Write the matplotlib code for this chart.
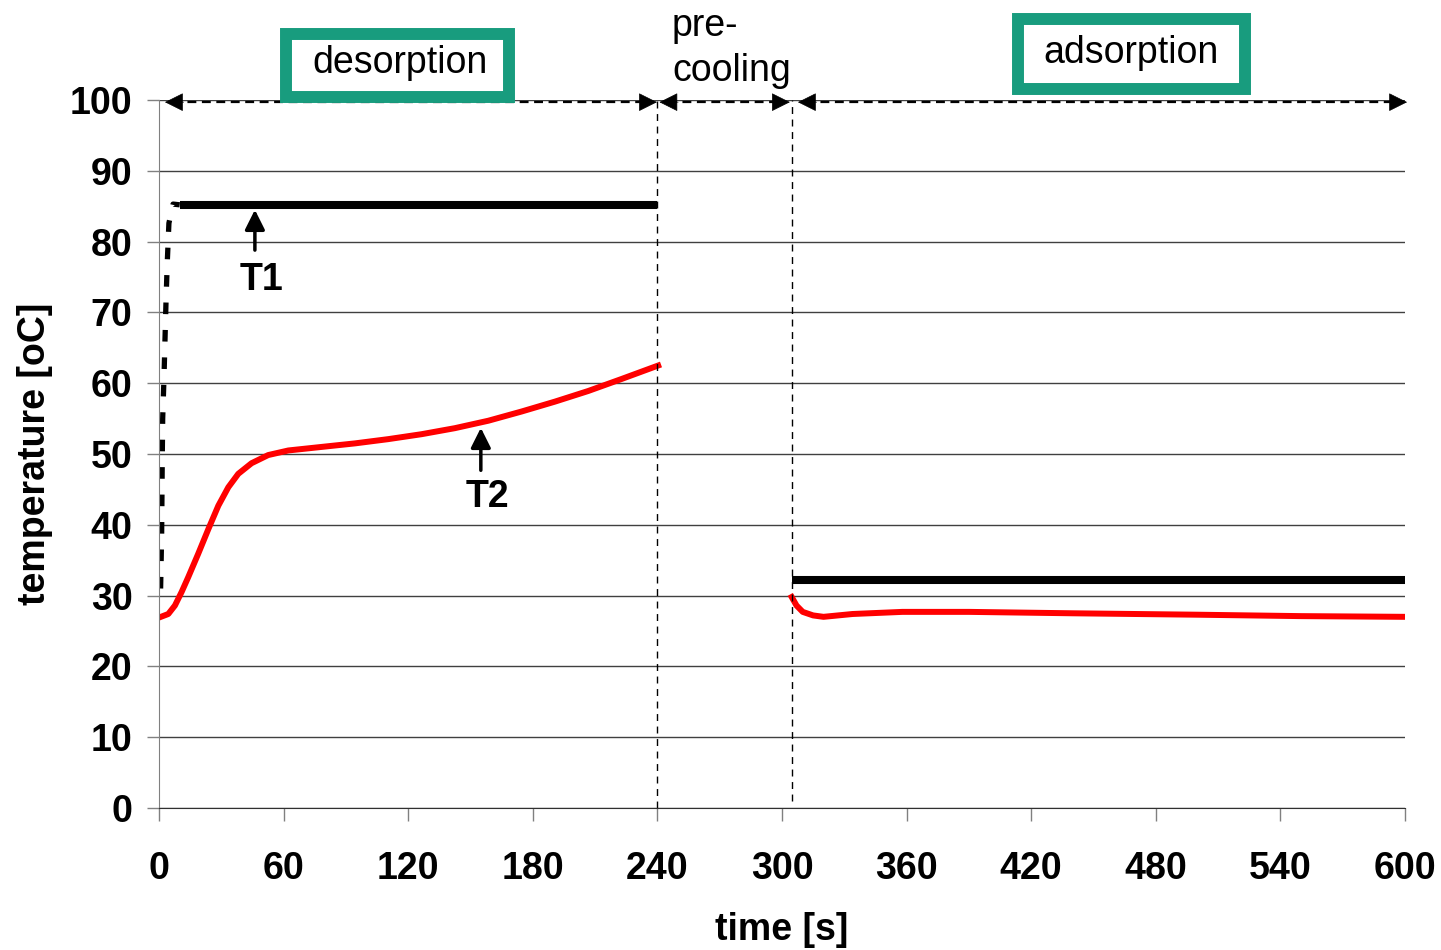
import numpy as np
import matplotlib.pyplot as plt
from matplotlib.patches import Rectangle

plt.rcParams['font.family'] = ['Liberation Sans', 'DejaVu Sans']

# T1 (heater) during desorption: fast rise, then hold
t1_rise = [0.8, 1.3, 1.6, 1.8, 2.4, 2.9, 3.4, 4.0, 4.8, 6.8, 10]
T1_rise = [31, 38.6, 49.6, 55, 60.5, 66, 71.5, 77, 82.6, 85.3, 85.2]
t1_hold = [10, 240]
T1_hold = [85.2, 85.2]
# T1 during adsorption
t1_ads = [305, 600]
T1_ads = [32.2, 32.2]

# T2 during desorption
t2_des = [0.5, 4.5, 7.7, 10.9, 14.1, 18.9, 23.8, 28.6, 33.4, 38.2, 44.6, 52.6, 62.3, 78.3,
          94.4, 110.4, 126.5, 142.5, 158.6, 174.6, 190.7, 206.7, 222.8, 240.4]
T2_des = [26.95, 27.4, 28.6, 30.5, 32.6, 35.9, 39.4, 42.7, 45.3, 47.2, 48.7, 49.85, 50.5, 51.0,
          51.5, 52.1, 52.8, 53.65, 54.7, 56.0, 57.4, 58.9, 60.6, 62.5]
# T2 during adsorption
t2_ads = [304.7, 307, 310, 315, 320, 334, 358, 390, 440, 500, 550, 600]
T2_ads = [29.8, 28.6, 27.7, 27.2, 27.0, 27.4, 27.7, 27.7, 27.5, 27.3, 27.1, 27.0]

xticks = np.arange(0, 601, 60)
yticks = np.arange(0, 101, 10)

teal = '#189c7e'
grey = '#808080'

fig = plt.figure(figsize=(14.41, 9.5), dpi=100)
ax = fig.add_axes([0.1103, 0.1495, 0.8647, 0.7452])

ax.plot(t1_rise, T1_rise, color='black', lw=3.8, ls=(0, (2.2, 3.0)))
ax.plot(t1_hold, T1_hold, color='black', lw=5.8, solid_capstyle='butt')
ax.plot(t1_ads, T1_ads, color='black', lw=5.8, solid_capstyle='butt')
ax.plot(t2_des, T2_des, color='red', lw=4.3, solid_joinstyle='round')
ax.plot(t2_ads, T2_ads, color='red', lw=4.3, solid_joinstyle='round')

ax.set_xlim(0, 600)
ax.set_ylim(0, 100)
ax.set_xticks(xticks)
ax.set_yticks(yticks)
ax.grid(True, axis='y', color='#404040', lw=1)
ax.set_axisbelow(True)
for s in ['top', 'right']:
    ax.spines[s].set_visible(False)
ax.spines['left'].set_color(grey)
ax.spines['bottom'].set_color('#303030')
ax.tick_params(axis='both', direction='out', length=9, width=1, color=grey,
               labelsize=27)
ax.tick_params(axis='y', pad=10)
ax.tick_params(axis='x', pad=22)
for lab in ax.get_xticklabels() + ax.get_yticklabels():
    lab.set_fontweight('bold')
ax.set_xlabel('time [s]', fontsize=27, fontweight='bold', labelpad=18)
ax.set_ylabel('temperature [oC]', fontsize=27, fontweight='bold', labelpad=12)

# phase boundaries
ax.axvline(240, ymin=0, ymax=1, color='black', lw=1, ls=(0, (5, 4)))
ax.axvline(305, ymin=0.01, ymax=1, color='black', lw=1, ls=(0, (5, 4)))

# phase arrows along the top: dashed shaft + solid heads
head = dict(arrowstyle='-|>,head_length=0.6,head_width=0.3', color='black', lw=0.5,
            shrinkA=0, shrinkB=0, mutation_scale=20)
ya = 99.7
for x0, x1 in [(2.9, 239.8), (241, 303.8), (307.7, 601)]:
    ax.plot([x0 + 4, x1 - 4], [ya, ya], color='black', lw=1.6, ls=(0, (4, 2.5)),
            clip_on=False)
    ax.annotate('', xy=(x1, ya), xytext=(x1 - 9, ya), arrowprops=head,
                annotation_clip=False)
    ax.annotate('', xy=(x0, ya), xytext=(x0 + 9, ya), arrowprops=head,
                annotation_clip=False)

# phase boxes
ax.add_patch(Rectangle((61.2, 100.4), 107.3, 8.9, fc='white', ec=teal, lw=8.6,
                       clip_on=False, zorder=5))
ax.text(116, 105.2, 'desorption', fontsize=27, ha='center', va='center', zorder=6)
ax.add_patch(Rectangle((413.6, 101.6), 109.4, 9.8, fc='white', ec=teal, lw=8.6,
                       clip_on=False, zorder=5))
ax.text(468, 106.6, 'adsorption', fontsize=27, ha='center', va='center', zorder=6)
ax.text(247, 107.3, 'pre-\ncooling', fontsize=27, ha='left', va='center',
        linespacing=1.3)

# curve labels
ax.annotate('', xy=(46.2, 84.5), xytext=(46.2, 78.8),
            arrowprops=dict(arrowstyle='-|>,head_length=0.6,head_width=0.3',
                            lw=2.5, color='black', shrinkA=0, shrinkB=0,
                            mutation_scale=20))
ax.text(49.6, 74.6, 'T1', fontsize=27, fontweight='bold', ha='center', va='center')
ax.annotate('', xy=(155, 53.7), xytext=(155, 47.7),
            arrowprops=dict(arrowstyle='-|>,head_length=0.6,head_width=0.3',
                            lw=2.5, color='black', shrinkA=0, shrinkB=0,
                            mutation_scale=20))
ax.text(158, 43.9, 'T2', fontsize=27, fontweight='bold', ha='center', va='center')

fig.savefig('out.png', dpi=100)
